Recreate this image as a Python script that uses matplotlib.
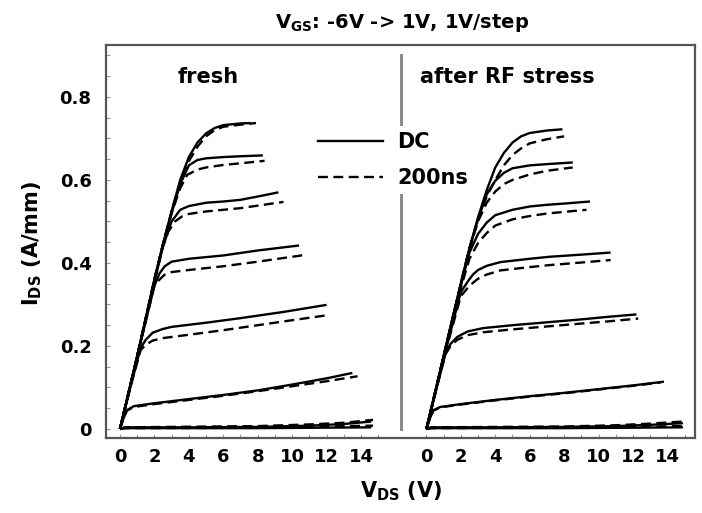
import matplotlib
matplotlib.use("Agg")
import matplotlib.pyplot as plt
from matplotlib.lines import Line2D

# V_GS steps: 1, 0, -1, -2, -3, -4, -5, -6 V  (top curve first)
vgs = [1, 0, -1, -2, -3, -4, -5, -6]

# ---- fresh device, DC (solid) ----
fresh_dc = [
    ([0, 0.5, 1, 1.5, 2, 2.5, 3, 3.5, 4, 4.5, 5, 5.5, 6, 7, 7.6],
     [0, 0.085, 0.175, 0.265, 0.36, 0.445, 0.525, 0.6, 0.655, 0.69, 0.712, 0.725, 0.732, 0.736, 0.737]),
    ([0, 1, 2, 2.5, 3, 3.5, 4, 4.5, 5, 6, 7, 8.3],
     [0, 0.175, 0.36, 0.445, 0.52, 0.59, 0.635, 0.648, 0.652, 0.655, 0.657, 0.659]),
    ([0, 1, 2, 2.5, 3, 3.5, 4, 5, 6, 7, 8, 9.2],
     [0, 0.175, 0.355, 0.44, 0.5, 0.528, 0.537, 0.545, 0.548, 0.552, 0.56, 0.57]),
    ([0, 1, 2, 2.3, 2.6, 3, 4, 6, 8, 10.4],
     [0, 0.175, 0.345, 0.375, 0.392, 0.403, 0.41, 0.418, 0.43, 0.442]),
    ([0, 0.6, 1.2, 1.5, 1.9, 2.5, 3, 5, 7, 9.5, 12],
     [0, 0.1, 0.195, 0.215, 0.232, 0.241, 0.246, 0.256, 0.267, 0.282, 0.299]),
    ([0, 0.2, 0.4, 0.8, 2, 4, 6, 8, 10, 12, 13.5],
     [0, 0.025, 0.045, 0.055, 0.062, 0.072, 0.082, 0.093, 0.107, 0.122, 0.135]),
    ([0, 0.3, 4, 8, 11, 13, 14.6],
     [0, 0.004, 0.004, 0.005, 0.008, 0.012, 0.018]),
    ([0, 0.3, 8, 14.6],
     [0, 0.002, 0.002, 0.004]),
]

# ---- fresh device, 200 ns pulsed (dashed) ----
fresh_pulse = [
    ([0, 1, 2, 2.5, 3, 3.5, 4, 4.5, 5, 5.5, 6, 7, 7.9],
     [0, 0.175, 0.36, 0.445, 0.525, 0.595, 0.645, 0.68, 0.705, 0.72, 0.728, 0.733, 0.737]),
    ([0, 1, 2, 2.5, 3, 3.5, 3.9, 4.5, 5, 6, 7, 8.4],
     [0, 0.175, 0.36, 0.445, 0.52, 0.58, 0.612, 0.625, 0.63, 0.636, 0.64, 0.646]),
    ([0, 1, 2, 2.5, 2.8, 3.2, 3.6, 4, 5, 6, 7, 8, 9.5],
     [0, 0.175, 0.355, 0.44, 0.475, 0.5, 0.512, 0.518, 0.524, 0.528, 0.532, 0.538, 0.547]),
    ([0, 1, 2, 2.3, 2.6, 3, 4, 6, 8, 10.7],
     [0, 0.175, 0.345, 0.36, 0.372, 0.378, 0.383, 0.392, 0.403, 0.419]),
    ([0, 0.6, 1.2, 1.5, 1.9, 2.5, 4, 6, 8, 10, 12.2],
     [0, 0.1, 0.19, 0.203, 0.213, 0.219, 0.227, 0.238, 0.25, 0.262, 0.275]),
    ([0, 0.2, 0.4, 0.8, 2, 4, 6, 8, 10, 12, 13.8],
     [0, 0.025, 0.044, 0.053, 0.06, 0.07, 0.08, 0.091, 0.103, 0.115, 0.127]),
    ([0, 0.3, 8, 11, 13, 14.7],
     [0, 0.004, 0.007, 0.011, 0.015, 0.022]),
    ([0, 0.3, 8, 14.7],
     [0, 0.002, 0.003, 0.008]),
]

# ---- after RF stress, DC (solid) ----
stress_dc = [
    ([0, 0.5, 1, 1.5, 2, 2.5, 3, 3.5, 4, 4.5, 5, 5.5, 6, 7, 7.9],
     [0, 0.085, 0.175, 0.265, 0.35, 0.435, 0.51, 0.575, 0.63, 0.665, 0.69, 0.705, 0.713, 0.719, 0.722]),
    ([0, 1, 2, 2.5, 3, 3.5, 4, 4.5, 5, 6, 7, 8.5],
     [0, 0.175, 0.35, 0.435, 0.505, 0.565, 0.598, 0.617, 0.628, 0.635, 0.638, 0.642]),
    ([0, 1, 2, 2.5, 3, 3.5, 4, 5, 6, 7, 8, 9.5],
     [0, 0.175, 0.345, 0.425, 0.47, 0.497, 0.515, 0.528, 0.536, 0.54, 0.543, 0.548]),
    ([0, 1, 2, 2.4, 2.7, 3, 3.5, 4.3, 6, 7.2, 9, 10.7],
     [0, 0.17, 0.33, 0.355, 0.372, 0.383, 0.393, 0.402, 0.41, 0.415, 0.42, 0.425]),
    ([0, 0.6, 1.1, 1.4, 1.8, 2.4, 3.3, 5, 7, 9, 10.5, 12.2],
     [0, 0.1, 0.18, 0.205, 0.222, 0.235, 0.243, 0.25, 0.257, 0.264, 0.27, 0.276]),
    ([0, 0.2, 0.4, 0.8, 2, 4, 6, 8, 10, 12, 13.8],
     [0, 0.025, 0.045, 0.053, 0.06, 0.07, 0.079, 0.087, 0.096, 0.105, 0.114]),
    ([0, 0.3, 4, 8, 11, 13, 14.9],
     [0, 0.004, 0.004, 0.005, 0.007, 0.01, 0.014]),
    ([0, 0.3, 8, 14.9],
     [0, 0.002, 0.002, 0.004]),
]

# ---- after RF stress, 200 ns pulsed (dashed) ----
stress_pulse = [
    ([0, 1, 2, 2.5, 3, 3.5, 4, 4.5, 5, 5.5, 6, 7, 8],
     [0, 0.175, 0.35, 0.435, 0.505, 0.56, 0.6, 0.635, 0.66, 0.676, 0.688, 0.698, 0.705]),
    ([0, 1, 2, 2.5, 3, 3.5, 4, 4.5, 5, 6, 7, 8.5],
     [0, 0.175, 0.35, 0.435, 0.5, 0.545, 0.572, 0.59, 0.6, 0.613, 0.622, 0.63]),
    ([0, 1, 2, 2.5, 3, 3.5, 4, 5, 6, 7, 8, 9.3],
     [0, 0.175, 0.34, 0.41, 0.448, 0.472, 0.49, 0.505, 0.513, 0.519, 0.523, 0.528]),
    ([0, 1, 2, 2.4, 2.7, 3, 3.5, 4.3, 6, 7.2, 9, 10.7],
     [0, 0.17, 0.32, 0.34, 0.352, 0.362, 0.372, 0.382, 0.39, 0.395, 0.401, 0.407]),
    ([0, 0.6, 1.1, 1.4, 1.8, 2.4, 3.3, 5, 7, 9, 10.5, 12.3],
     [0, 0.1, 0.18, 0.2, 0.215, 0.226, 0.233, 0.24, 0.247, 0.254, 0.259, 0.266]),
    ([0, 0.2, 0.4, 0.8, 2, 4, 6, 8, 10, 12, 13.6],
     [0, 0.025, 0.044, 0.052, 0.059, 0.069, 0.078, 0.086, 0.095, 0.104, 0.112]),
    ([0, 0.3, 8, 11, 13, 14.9],
     [0, 0.004, 0.006, 0.009, 0.013, 0.018]),
    ([0, 0.3, 8, 14.9],
     [0, 0.002, 0.003, 0.007]),
]

x_ticks = [0, 2, 4, 6, 8, 10, 12, 14]
y_ticks = [0, 0.2, 0.4, 0.6, 0.8]
y_labels = ["0", "0.2", "0.4", "0.6", "0.8"]

plt.rcParams["font.family"] = "DejaVu Sans"
plt.rcParams["font.weight"] = "bold"
plt.rcParams["mathtext.fontset"] = "dejavusans"
plt.rcParams["mathtext.default"] = "bf"

offset = 17.8  # second panel shares the axes, shifted right
dash = (4.2, 2.3)
lw = 1.7

fig = plt.figure(figsize=(7.02, 5.13), dpi=100)
ax = fig.add_axes([0.1503, 0.1462, 0.8397, 0.7661])

for shift, dc, pulse in [(0, fresh_dc, fresh_pulse), (offset, stress_dc, stress_pulse)]:
    for v, i in dc:
        ax.plot([x + shift for x in v], i, color="black", lw=lw, solid_capstyle="butt")
    for v, i in pulse:
        ax.plot([x + shift for x in v], i, color="black", lw=lw, dashes=dash)

ax.set_xlim(-0.84, 33.4)
ax.set_ylim(-0.0217, 0.925)

# panel divider
ax.plot([16.3, 16.3], [0.0, 0.9], color="#8c8c8c", lw=2.2, zorder=1)

ax.set_xticks(x_ticks + [offset + t for t in x_ticks])
ax.set_xticklabels([str(t) for t in x_ticks] * 2)
ax.set_xticks(list(range(16)) + [offset + t for t in range(16)], minor=True)
ax.set_yticks(y_ticks)
ax.set_yticklabels(y_labels)
ax.set_yticks([k * 0.05 for k in range(19)], minor=True)
ax.tick_params(which="both", direction="in", length=3, width=0.8, color="#999999")
ax.tick_params(axis="x", labelsize=13, pad=7)
ax.tick_params(axis="y", labelsize=13, pad=10)

for s in ax.spines.values():
    s.set_color("#555555")
    s.set_linewidth(1.6)

ax.text(0.123, 0.9186, "fresh", transform=ax.transAxes, fontsize=15, va="center", ha="left")
ax.text(0.533, 0.9186, "after RF stress", transform=ax.transAxes, fontsize=15, va="center", ha="left")

handles = [Line2D([], [], color="black", lw=lw),
           Line2D([], [], color="black", lw=lw, dashes=dash)]
leg = ax.legend(handles, ["DC", "200ns"], loc="center left", bbox_to_anchor=(0.35, 0.7074),
                borderaxespad=0, borderpad=0.3, handlelength=3.1, handletextpad=0.7,
                labelspacing=0.75, fontsize=15, frameon=True, facecolor="white",
                edgecolor="none", framealpha=1, fancybox=False)
leg.set_zorder(5)

fig.text(402 / 702, 1 - 23 / 513, r"V$_{GS}$: -6V -> 1V, 1V/step", ha="center", va="center", fontsize=14)
fig.text(401 / 702, 1 - 491 / 513, r"V$_{DS}$ (V)", ha="center", va="center", fontsize=15)
fig.text(32 / 702, 1 - 243 / 513, r"I$_{DS}$ (A/mm)", ha="center", va="center", fontsize=15, rotation=90)

fig.savefig("out.png", dpi=100)
